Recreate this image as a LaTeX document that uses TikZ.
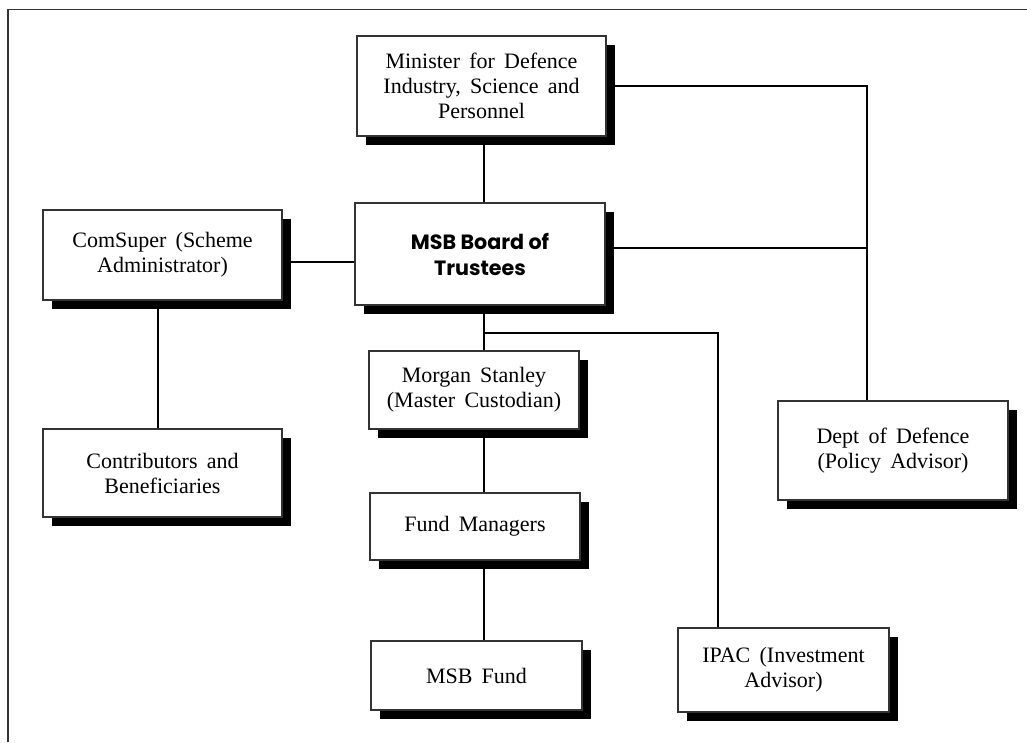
\documentclass[tikz,border=0pt]{standalone}
\usepackage{fontspec}
\setmainfont{Liberation Serif}
\newfontfamily\boardfont{Poppins}
\newcommand{\orgfnt}{\fontsize{16.5pt}{18.75pt}\selectfont\spaceskip=0.42em plus 0.1em\relax}
\usetikzlibrary{shadows}
\begin{document}
\begin{tikzpicture}[x=0.75pt,y=-0.75pt,
  orgbox/.style={draw=black!80, line width=0.8pt, fill=white, align=center,
    inner sep=0pt, font=\orgfnt,
    drop shadow={shadow xshift=6.75pt, shadow yshift=-6.75pt, shadow scale=1, fill=black, opacity=1}},
  link/.style={draw=black, line width=0.8pt}]
\useasboundingbox (0,0) rectangle (1027,742);
\draw[black!80, line width=1.4pt] (8,742) -- (8,9.5) -- (1027,9.5);
\node[orgbox, minimum width=249*0.75pt, minimum height=100*0.75pt] (min) at (481.5,86) {Minister for Defence\\Industry, Science and\\Personnel};
\node[orgbox, minimum width=250*0.75pt, minimum height=102*0.75pt, font=\boardfont\bfseries\fontsize{15.5pt}{19.5pt}\selectfont] (board) at (480,254) {MSB Board of\\Trustees};
\node[orgbox, minimum width=239*0.75pt, minimum height=90*0.75pt] (com) at (162.5,255) {ComSuper (Scheme\\Administrator)};
\node[orgbox, minimum width=239*0.75pt, minimum height=88*0.75pt] (contrib) at (162.5,473) {Contributors and\\Beneficiaries};
\node[orgbox, minimum width=210*0.75pt, minimum height=78*0.75pt] (morgan) at (474,390) {Morgan Stanley\\(Master Custodian)};
\node[orgbox, minimum width=210*0.75pt, minimum height=67*0.75pt] (fm) at (475,526.5) {Fund Managers};
\node[orgbox, minimum width=211*0.75pt, minimum height=69*0.75pt] (fund) at (476.5,675.5) {MSB Fund};
\node[orgbox, minimum width=211*0.75pt, minimum height=84*0.75pt] (ipac) at (783.5,670) {IPAC (Investment\\Advisor)};
\node[orgbox, minimum width=230*0.75pt, minimum height=99*0.75pt] (dept) at (893,450.5) {Dept of Defence\\(Policy Advisor)};
\coordinate (xa) at (484,0);
\coordinate (xb) at (867,0);
\coordinate (xc) at (718,0);
\coordinate (xd) at (158,0);
\coordinate (ya) at (0,248);
\coordinate (yb) at (0,262);
\coordinate (yc) at (0,333);
\path[link] (min.south -| xa) -- (board.north -| xa);
\path[link] (min.east) -| (dept.north -| xb);
\path[link] (board.east |- ya) -- (xb |- ya);
\path[link] (com.east |- yb) -- (board.west |- yb);
\path[link] (com.south -| xd) -- (contrib.north -| xd);
\path[link] (board.south -| xa) -- (morgan.north -| xa);
\path[link] (xa |- yc) -| (ipac.north -| xc);
\path[link] (morgan.south -| xa) -- (fm.north -| xa);
\path[link] (fm.south -| xa) -- (fund.north -| xa);
\end{tikzpicture}
\end{document}
